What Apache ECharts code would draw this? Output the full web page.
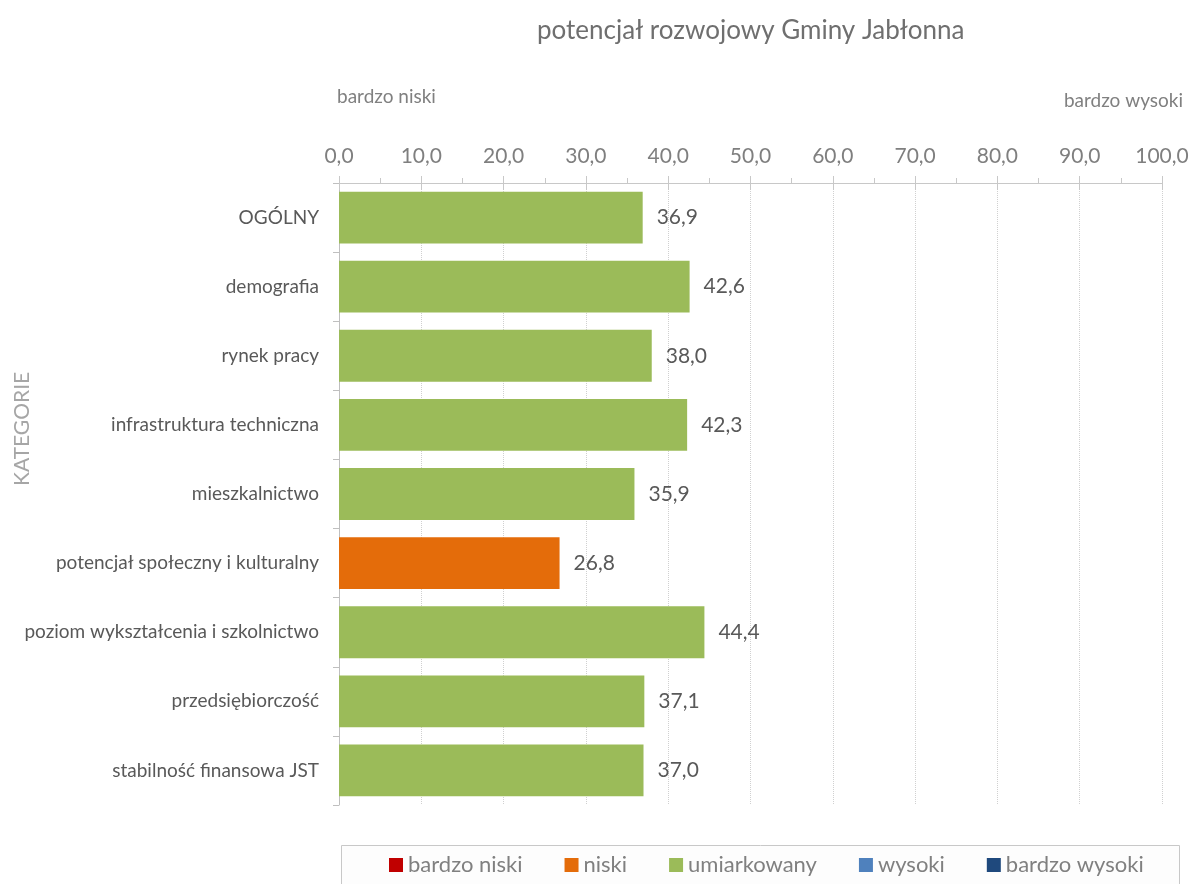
<!DOCTYPE html>
<html>
<head>
    <meta charset="utf-8"/>
    <title>potencjał rozwojowy Gminy Jabłonna</title>
    <script src="https://cdn.jsdelivr.net/npm/echarts@6/dist/echarts.min.js"></script>
    <style>
        html, body { margin: 0; padding: 0; background: #fff; }
        #chart { width: 1192px; height: 884px; }
    </style>
</head>
<body>
<div id="chart"></div>
<script>
    // dane
    var kategorie = ['OGÓLNY', 'demografia', 'rynek pracy', 'infrastruktura techniczna', 'mieszkalnictwo',
        'potencjał społeczny i kulturalny', 'poziom wykształcenia i szkolnictwo', 'przedsiębiorczość',
        'stabilność finansowa JST'];
    var wartosci = [36.9, 42.6, 38.0, 42.3, 35.9, 26.8, 44.4, 37.1, 37.0];
    // klasa potencjalu dla kazdej kategorii (indeks w tablicy klasy)
    var klasaKategorii = [2, 2, 2, 2, 2, 1, 2, 2, 2];
    var klasy = ['bardzo niski', 'niski', 'umiarkowany', 'wysoki', 'bardzo wysoki'];
    var koloryKlas = ['#C00000', '#E46C0A', '#9BBB59', '#4F81BD', '#1F497D'];

    var font = 'Lato, "Open Sans", sans-serif';

    var series = klasy.map(function (nazwa, k) {
        return {
            name: nazwa,
            type: 'bar',
            stack: 'all',
            barCategoryGap: '25%',
            itemStyle: {color: koloryKlas[k]},
            label: {
                show: true,
                position: 'right',
                distance: 14,
                fontFamily: font,
                fontSize: 21,
                color: '#595959',
                formatter: function (p) {
                    return p.value.toFixed(1).replace('.', ',');
                }
            },
            data: wartosci.map(function (v, i) {
                return klasaKategorii[i] === k ? v : '-';
            })
        };
    });

    var chart = echarts.init(document.getElementById('chart'));
    chart.setOption({
        backgroundColor: '#fff',
        animation: false,
        title: {
            text: 'potencjał rozwojowy Gminy Jabłonna',
            left: 532,
            top: 13,
            textStyle: {fontFamily: font, fontSize: 26, fontWeight: 'normal', color: '#6f6f6f'}
        },
        grid: {left: 339, right: 30, top: 183, bottom: 79},
        legend: {
            data: klasy,
            left: 384,
            bottom: 3,
            itemWidth: 14,
            itemHeight: 14,
            itemGap: 42,
            icon: 'rect',
            textStyle: {fontFamily: font, fontSize: 22, color: '#808080'}
        },
        graphic: [
            {
                type: 'rect',
                shape: {x: 341.5, y: 845.5, width: 838, height: 60},
                style: {fill: '#fdfdfd', stroke: '#c8c8c8', lineWidth: 1},
                z: -1
            },
            {
                type: 'text',
                left: 337,
                top: 87,
                style: {text: 'bardzo niski', font: '19px ' + font, fill: '#808080'}
            },
            {
                type: 'text',
                right: 9,
                top: 91,
                style: {text: 'bardzo wysoki', font: '19px ' + font, fill: '#808080'}
            },
            {
                type: 'text',
                x: 12,
                y: 486,
                rotation: Math.PI / 2,
                style: {text: 'KATEGORIE', font: '21px ' + font, fill: '#a6a6a6'}
            }
        ],
        xAxis: [
            {
                type: 'value',
                position: 'top',
                min: 0,
                max: 100,
                interval: 10,
                axisLine: {show: true, lineStyle: {color: '#c8c8c8'}},
                axisTick: {show: true, length: 7, lineStyle: {color: '#c8c8c8'}},
                minorTick: {show: true, splitNumber: 2, length: 5, lineStyle: {color: '#c8c8c8'}},
                axisLabel: {
                    margin: 16,
                    fontFamily: font,
                    fontSize: 21,
                    color: '#7f7f7f',
                    formatter: function (v) {
                        return v.toFixed(1).replace('.', ',');
                    }
                },
                splitLine: {show: true, lineStyle: {color: '#d0d0d0', type: 'dotted'}}
            },
            {
                // dolna czesc krzyzujacych sie podzialek
                type: 'value',
                position: 'top',
                min: 0,
                max: 100,
                interval: 10,
                axisLine: {show: false},
                axisTick: {show: true, inside: true, length: 7, lineStyle: {color: '#c8c8c8'}},
                axisLabel: {show: false},
                splitLine: {show: false}
            }
        ],
        yAxis: {
            type: 'category',
            data: kategorie,
            inverse: true,
            axisLine: {show: true, lineStyle: {color: '#bfbfbf'}},
            axisTick: {show: true, length: 6, lineStyle: {color: '#bfbfbf'}},
            axisLabel: {margin: 20, fontFamily: font, fontSize: 19, color: '#595959'}
        },
        series: series
    });
</script>
</body>
</html>
